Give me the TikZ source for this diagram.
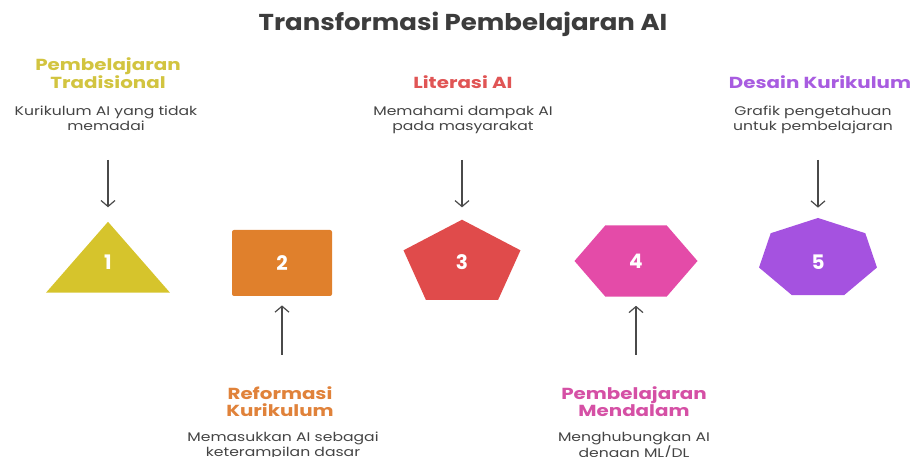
\documentclass[tikz,border=0pt]{standalone}
\usepackage{fontspec}
\setmainfont{Poppins}
\usetikzlibrary{arrows.meta,positioning,shapes}

\definecolor{titlegray}{HTML}{3C3C3C}
\definecolor{descgray}{HTML}{444444}
\definecolor{arrowgray}{HTML}{4A4A4A}
\definecolor{fillone}{HTML}{D6C42C}
\definecolor{filltwo}{HTML}{E0802C}
\definecolor{fillthree}{HTML}{E04B4B}
\definecolor{fillfour}{HTML}{E44BA8}
\definecolor{fillfive}{HTML}{A552E0}
\definecolor{headone}{HTML}{D2C440}
\definecolor{headtwo}{HTML}{E0823A}
\definecolor{headthree}{HTML}{E05555}
\definecolor{headfour}{HTML}{D550A5}
\definecolor{headfive}{HTML}{A85CE0}

\begin{document}
\begin{tikzpicture}[x=1pt, y=-1pt, thick]

		\tikzstyle{head}=[font=\bfseries\fontsize{16}{17.5}\selectfont, xscale=1.24, align=center, inner sep=0, anchor=south]
		\tikzstyle{desc}=[font=\fontsize{12.5}{15}\selectfont, xscale=1.25, text=descgray, align=center, inner sep=0, anchor=north]
		\tikzstyle{num}=[font=\bfseries\fontsize{20}{20}\selectfont, text=white, inner sep=0]
		\tikzstyle{shp}=[draw=none, inner sep=0, regular polygon]
		\tikzstyle{link}=[-{Straight Barb[length=6pt, width=14pt]}, draw=arrowgray, line width=1.2pt]

		\useasboundingbox (0,0) rectangle (914,457);

		\node[font=\bfseries\fontsize{23}{23}\selectfont, xscale=1.13, text=titlegray, anchor=base] (title) at (463,31) {Transformasi Pembelajaran AI};

		% stage shapes
		\node[shp, regular polygon sides=3, minimum size=143, yscale=0.66, fill=fillone] (s1) at (108,269) {};
		\node[draw=none, fill=filltwo, rounded corners=2, minimum width=100, minimum height=66, inner sep=0] (s2) at (282,263) {};
		\node[shp, regular polygon sides=5, minimum size=123, yscale=0.72, fill=fillthree] (s3) at (462,264) {};
		\node[shp, regular polygon sides=6, minimum size=123, yscale=0.667, fill=fillfour] (s4) at (636,261) {};
		\node[shp, regular polygon sides=7, minimum size=121, yscale=0.67, fill=fillfive] (s5) at (818,258.5) {};

		\node[num] (n1) at (108,262) {1};
		\node[num] (n2) at (282,263) {2};
		\node[num] (n3) at (462,262) {3};
		\node[num] (n4) at (636,261) {4};
		\node[num] (n5) at (818,262) {5};

		% labels above
		\node[head, text=headone] (h1) at (108,89) {Pembelajaran\\Tradisional};
		\node[desc] (d1) at (106,106) {Kurikulum AI yang tidak\\memadai};
		\node[head, text=headthree] (h3) at (463,89) {Literasi AI};
		\node[desc] (d3) at (463,106) {Memahami dampak AI\\pada masyarakat};
		\node[head, text=headfive] (h5) at (820,89) {Desain Kurikulum};
		\node[desc] (d5) at (813,106) {Grafik pengetahuan\\untuk pembelajaran};

		% labels below
		\node[head, anchor=north, text=headtwo] (h2) at (280,386) {Reformasi\\Kurikulum};
		\node[desc] (d2) at (283,432) {Memasukkan AI sebagai\\keterampilan dasar};
		\node[head, anchor=north, text=headfour] (h4) at (634,386) {Pembelajaran\\Mendalam};
		\node[desc] (d4) at (634,432) {Menghubungkan AI\\dengan ML/DL};

		\coordinate (a1) at (108,160);
		\coordinate (a2) at (282,355);
		\coordinate (a3) at (462,160);
		\coordinate (a4) at (636,355);
		\coordinate (a5) at (818,160);

		\draw[link, shorten >=14pt] (a1) -- (s1.north);
		\draw[link, shorten >=9pt] (a2) -- (s2.south);
		\draw[link, shorten >=12pt] (a3) -- (s3.north);
		\draw[link, shorten >=9pt] (a4) -- (s4.south);
		\draw[link, shorten >=10pt] (a5) -- (s5.north);
\end{tikzpicture}
\end{document}
